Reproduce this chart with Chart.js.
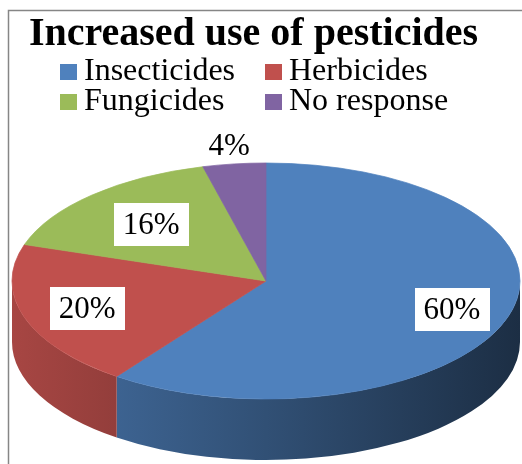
<!DOCTYPE html>
<html><head><meta charset="utf-8">
<script src="https://cdn.jsdelivr.net/npm/chart.js@4.4.1/dist/chart.umd.min.js"></script>
<style>html,body{margin:0;padding:0;background:#fff;overflow:hidden;}</style>
</head><body>
<canvas id="c" width="522" height="464"></canvas>
<script>
const categories = ['Insecticides', 'Herbicides', 'Fungicides', 'No response'];
const percentages = [60, 20, 16, 4];
const sliceColors = ['#4F81BD', '#C0504D', '#9BBB59', '#8064A2'];
const titleText = 'Increased use of pesticides';

const SERIF = '"Liberation Serif", "Times New Roman", serif';
const PIE = { cx: 266, cy: 281, ry: 118, depth: 61 };
const LABEL = { frac: [0.77, 0.74, 0.66, 1.16], boxed: [true, true, true, false] };

function shade(hex, f) {
  const n = parseInt(hex.slice(1), 16);
  const r = Math.round(((n >> 16) & 255) * f), g = Math.round(((n >> 8) & 255) * f), b = Math.round((n & 255) * f);
  return 'rgb(' + r + ',' + g + ',' + b + ')';
}

const pie3d = {
  id: 'pie3d',
  beforeDraw(chart) {
    const ctx = chart.ctx;
    ctx.save();
    ctx.fillStyle = '#fff';
    ctx.fillRect(0, 0, chart.width, chart.height);
    ctx.strokeStyle = '#868686';
    ctx.lineWidth = 1.5;
    ctx.beginPath();
    ctx.moveTo(8.5, chart.height + 2);
    ctx.lineTo(8.5, 10.5);
    ctx.lineTo(chart.width + 2, 10.5);
    ctx.stroke();
    ctx.restore();
  },
  beforeDatasetsDraw(chart) {
    const ctx = chart.ctx;
    const meta = chart.getDatasetMeta(0);
    const R = meta.data[0].outerRadius;
    const k = PIE.ry / R;
    meta.data.forEach((el, i) => {
      const s = Math.max(el.startAngle, 0), e = Math.min(el.endAngle, Math.PI);
      if (e <= s) return;
      const col = sliceColors[i];
      const g = ctx.createLinearGradient(PIE.cx - R, 0, PIE.cx + R, 0);
      g.addColorStop(0, shade(col, 0.87));
      g.addColorStop(0.5, shade(col, 0.62));
      g.addColorStop(1, shade(col, 0.36));
      ctx.beginPath();
      ctx.ellipse(PIE.cx, PIE.cy, R, PIE.ry, 0, s, e);
      ctx.ellipse(PIE.cx, PIE.cy + PIE.depth, R, PIE.ry, 0, e, s, true);
      ctx.closePath();
      ctx.fillStyle = g;
      ctx.fill();
    });
    ctx.save();
    const el0 = meta.data[0];
    ctx.translate(PIE.cx, PIE.cy);
    ctx.scale(1, k);
    ctx.translate(-el0.x, -el0.y);
  },
  afterDatasetsDraw(chart) {
    const ctx = chart.ctx;
    ctx.restore();
    const meta = chart.getDatasetMeta(0);
    const R = meta.data[0].outerRadius;
    // data labels
    ctx.save();
    ctx.font = '31px ' + SERIF;
    ctx.textAlign = 'center';
    ctx.textBaseline = 'middle';
    meta.data.forEach((el, i) => {
      const mid = (el.startAngle + el.endAngle) / 2;
      const f = LABEL.frac[i];
      const x = PIE.cx + R * f * Math.cos(mid);
      const y = PIE.cy + PIE.ry * f * Math.sin(mid);
      const txt = percentages[i] + '%';
      const w = ctx.measureText(txt).width;
      if (LABEL.boxed[i]) {
        ctx.fillStyle = '#fff';
        ctx.fillRect(Math.round(x - w / 2 - 9), Math.round(y - 21), Math.round(w + 18), 43);
      }
      ctx.fillStyle = '#000';
      ctx.fillText(txt, x, y + 2);
    });
    // legend
    ctx.font = '32px ' + SERIF;
    ctx.textAlign = 'left';
    ctx.textBaseline = 'alphabetic';
    categories.forEach((name, i) => {
      const col = i % 2, row = Math.floor(i / 2);
      const bx = [60, 265][col], by = 64 + 30 * row;
      ctx.fillStyle = sliceColors[i];
      ctx.fillRect(bx, by, 17, 16);
      ctx.fillStyle = '#000';
      ctx.fillText(name, bx + 24, by + 16);
    });
    ctx.restore();
  }
};

new Chart(document.getElementById('c'), {
  type: 'pie',
  data: {
    labels: categories,
    datasets: [{
      data: percentages,
      backgroundColor: sliceColors,
      borderColor: sliceColors,
      borderWidth: 1,
      hoverOffset: 0,
      radius: 254,
      clip: false
    }]
  },
  options: {
    responsive: false,
    devicePixelRatio: 1,
    animation: false,
    events: [],
    layout: { padding: { left: 0, right: 15, top: 0, bottom: 0 } },
    plugins: {
      legend: { display: false },
      tooltip: { enabled: false },
      title: {
        display: true,
        text: titleText,
        color: '#000',
        font: { family: SERIF, size: 40, weight: 'bold', lineHeight: 1.2 },
        padding: { top: 11, bottom: 0 }
      }
    }
  },
  plugins: [pie3d]
});
</script>
</body></html>
